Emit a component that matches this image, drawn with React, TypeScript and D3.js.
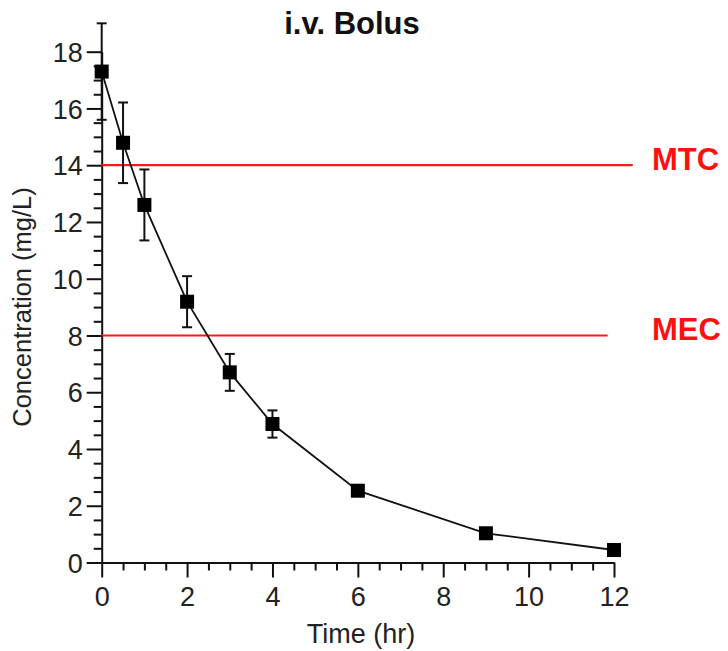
import React, { useEffect, useRef } from "react";
import * as d3 from "d3";

const times = [0, 0.5, 1, 2, 3, 4, 6, 9, 12];
const concentrations = [17.3, 14.79, 12.6, 9.19, 6.7, 4.88, 2.53, 1.03, 0.44];
const errors = [1.7, 1.42, 1.25, 0.9, 0.65, 0.48, 0.15, 0, 0];
const xMajorTicks = [0, 2, 4, 6, 8, 10, 12];
const yMajorTicks = [0, 2, 4, 6, 8, 10, 12, 14, 16, 18];
const refLines = [
  { label: "MTC", value: 14, end: 12.44 },
  { label: "MEC", value: 8, end: 11.85 },
];
const title = "i.v. Bolus";
const xLabel = "Time (hr)";
const yLabel = "Concentration (mg/L)";

const W = 728;
const H = 651;
const FONT = "'Liberation Sans', Arial, Helvetica, sans-serif";

export default function App() {
  const ref = useRef<SVGSVGElement | null>(null);

  useEffect(() => {
    const svg = d3.select(ref.current);
    svg.selectAll("*").remove();

    const x = d3.scaleLinear().domain([0, 12]).range([101.7, 614]);
    const y = d3.scaleLinear().domain([0, 18]).range([562.5, 51.7]);

    const xMinor = d3.range(0, 12.01, 0.5).filter((v) => v % 2 !== 0);
    const yMinor = d3.range(0, 18.01, 0.5).filter((v) => v % 2 !== 0);

    // minor ticks
    const gxm = svg
      .append("g")
      .attr("transform", `translate(0,${y(0)})`)
      .call(
        d3.axisBottom(x).tickValues(xMinor).tickSize(8).tickSizeOuter(0).tickFormat(() => "")
      );
    gxm.select(".domain").remove();
    const gym = svg
      .append("g")
      .attr("transform", `translate(${x(0)},0)`)
      .call(
        d3.axisLeft(y).tickValues(yMinor).tickSize(8).tickSizeOuter(0).tickFormat(() => "")
      );
    gym.select(".domain").remove();

    // major axes
    const gx = svg
      .append("g")
      .attr("transform", `translate(0,${y(0)})`)
      .call(
        d3
          .axisBottom(x)
          .tickValues(xMajorTicks)
          .tickSize(15)
          .tickSizeOuter(0)
          .tickPadding(9)
          .tickFormat(d3.format("d"))
      );
    const gy = svg
      .append("g")
      .attr("transform", `translate(${x(0)},0)`)
      .call(
        d3
          .axisLeft(y)
          .tickValues(yMajorTicks)
          .tickSize(15)
          .tickSizeOuter(0)
          .tickPadding(4)
          .tickFormat(d3.format("d"))
      );

    [gx, gy, gxm, gym].forEach((g) => {
      g.selectAll("line").attr("stroke", "#111").attr("stroke-width", 2);
      g.selectAll(".domain").attr("stroke", "#111").attr("stroke-width", 2);
      g.selectAll("text")
        .attr("font-family", FONT)
        .attr("font-size", 27)
        .attr("fill", "#222");
    });
    gy.selectAll("text").attr("dy", "0.36em");

    // reference lines
    refLines.forEach((r) => {
      svg
        .append("line")
        .attr("x1", x(0))
        .attr("x2", x(r.end))
        .attr("y1", y(r.value))
        .attr("y2", y(r.value))
        .attr("stroke", "#ff1a1a")
        .attr("stroke-width", 2.2);
      svg
        .append("text")
        .attr("x", 652)
        .attr("y", y(r.value) + 4.5)
        .attr("font-family", FONT)
        .attr("font-size", 31)
        .attr("font-weight", "bold")
        .attr("fill", "#ff1010")
        .text(r.label);
    });

    const data = times.map((t, i) => ({ t, c: concentrations[i], e: errors[i] }));

    // line
    const line = d3
      .line<{ t: number; c: number }>()
      .x((d) => x(d.t))
      .y((d) => y(d.c));
    svg
      .append("path")
      .datum(data)
      .attr("d", line)
      .attr("fill", "none")
      .attr("stroke", "#111")
      .attr("stroke-width", 1.8);

    // error bars
    const eb = svg.append("g").attr("stroke", "#111").attr("stroke-width", 2);
    data
      .filter((d) => d.e > 0)
      .forEach((d) => {
        const cx = x(d.t);
        eb.append("line")
          .attr("x1", cx)
          .attr("x2", cx)
          .attr("y1", y(d.c + d.e))
          .attr("y2", y(d.c - d.e));
        [d.c + d.e, d.c - d.e].forEach((v) => {
          eb.append("line")
            .attr("x1", cx - 5)
            .attr("x2", cx + 5)
            .attr("y1", y(v))
            .attr("y2", y(v));
        });
      });

    // markers
    const s = 14;
    svg
      .append("g")
      .selectAll("rect")
      .data(data)
      .join("rect")
      .attr("x", (d) => x(d.t) - s / 2)
      .attr("y", (d) => y(d.c) - s / 2)
      .attr("width", s)
      .attr("height", s)
      .attr("fill", "#000");

    // title
    svg
      .append("text")
      .attr("x", 352)
      .attr("y", 34)
      .attr("text-anchor", "middle")
      .attr("font-family", FONT)
      .attr("font-size", 31)
      .attr("font-weight", "bold")
      .attr("fill", "#111")
      .text(title);

    // x label
    svg
      .append("text")
      .attr("x", 361)
      .attr("y", 643)
      .attr("text-anchor", "middle")
      .attr("font-family", FONT)
      .attr("font-size", 27)
      .attr("fill", "#222")
      .text(xLabel);

    // y label
    svg
      .append("text")
      .attr("transform", `translate(31,307) rotate(-90)`)
      .attr("text-anchor", "middle")
      .attr("font-family", FONT)
      .attr("font-size", 25.5)
      .attr("fill", "#222")
      .text(yLabel);
  }, []);

  return (
    <svg
      ref={ref}
      width={W}
      height={H}
      viewBox={`0 0 ${W} ${H}`}
      style={{ position: "absolute", left: 0, top: 0, background: "#fff", display: "block" }}
    />
  );
}
